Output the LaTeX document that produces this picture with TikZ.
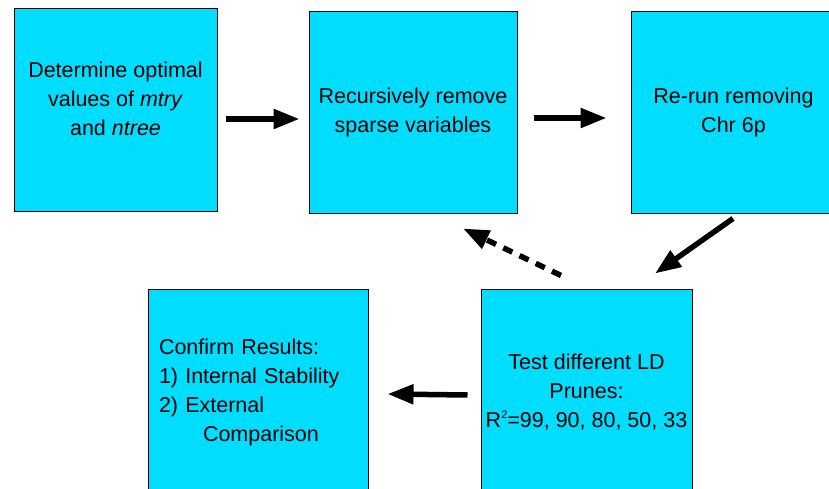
\documentclass[tikz,border=0pt]{standalone}
\usepackage{fontspec}
\setmainfont{Liberation Sans}
\usetikzlibrary{arrows.meta}
\definecolor{boxcyan}{RGB}{0,221,255}

\begin{document}
\begin{tikzpicture}[x=1pt, y=-1pt,
    boxtext/.style={inner sep=0pt, align=center, font=\fontsize{21.5}{29}\selectfont},
    stepbox/.style={boxtext, draw=black, line width=1pt, fill=boxcyan, minimum height=202pt},
    flow/.style={-{Triangle[length=26pt, width=19pt]}, line width=5.5pt},
    back/.style={flow, dash pattern=on 10pt off 8pt},
]
    \useasboundingbox (0,0) rectangle (829,489);
    \clip (0,0) rectangle (829,489);

    % Top row
    \node[stepbox, minimum width=203pt] (optim) at (115.5,110) {};
    \node[boxtext] (optimtxt) at ([yshift=11pt]optim.center) {Determine optimal\\values of \textit{mtry}\\and \textit{ntree}};
    \node[stepbox, minimum width=208pt, minimum height=201pt] (sparse) at (413,112.5) {Recursively remove\\sparse variables};
    \node[stepbox, minimum width=205pt, minimum height=201pt] (rerun) at (733.5,112.5) {Re-run removing\\Chr 6p};

    % Bottom row
    \node[stepbox, minimum width=211pt, minimum height=206pt] (ldtest) at (586.5,392) {Test different LD\\Prunes:\\R\raisebox{9pt}{\fontsize{11}{11}\selectfont 2}=99, 90, 80, 50, 33};
    \node[stepbox, minimum width=220pt, minimum height=206pt, text width=198pt, align=left] (confirm) at (258,392) {Confirm Results:\\1) Internal Stability\\2) External\\\hspace*{44pt}Comparison};

    % Arrows
    \draw[flow] ([xshift=8pt,yshift=-9pt]optim.east) -- ([xshift=-9pt,yshift=-6.5pt]sparse.west);
    \draw[flow] ([xshift=16pt,yshift=-5.5pt]sparse.east) -- ([xshift=-24pt,yshift=-5.5pt]rerun.west);
    \draw[flow] ([xshift=-0.5pt,yshift=-5pt]rerun.south) -- ([xshift=68.5pt,yshift=15pt]ldtest.north);
    \draw[back] ([xshift=-25.5pt,yshift=13pt]ldtest.north) -- ([xshift=50pt,yshift=-15pt]sparse.south);
    \draw[flow] ([xshift=-13pt,yshift=-3pt]ldtest.west) -- ([xshift=19pt,yshift=-2pt]confirm.east);
\end{tikzpicture}
\end{document}
